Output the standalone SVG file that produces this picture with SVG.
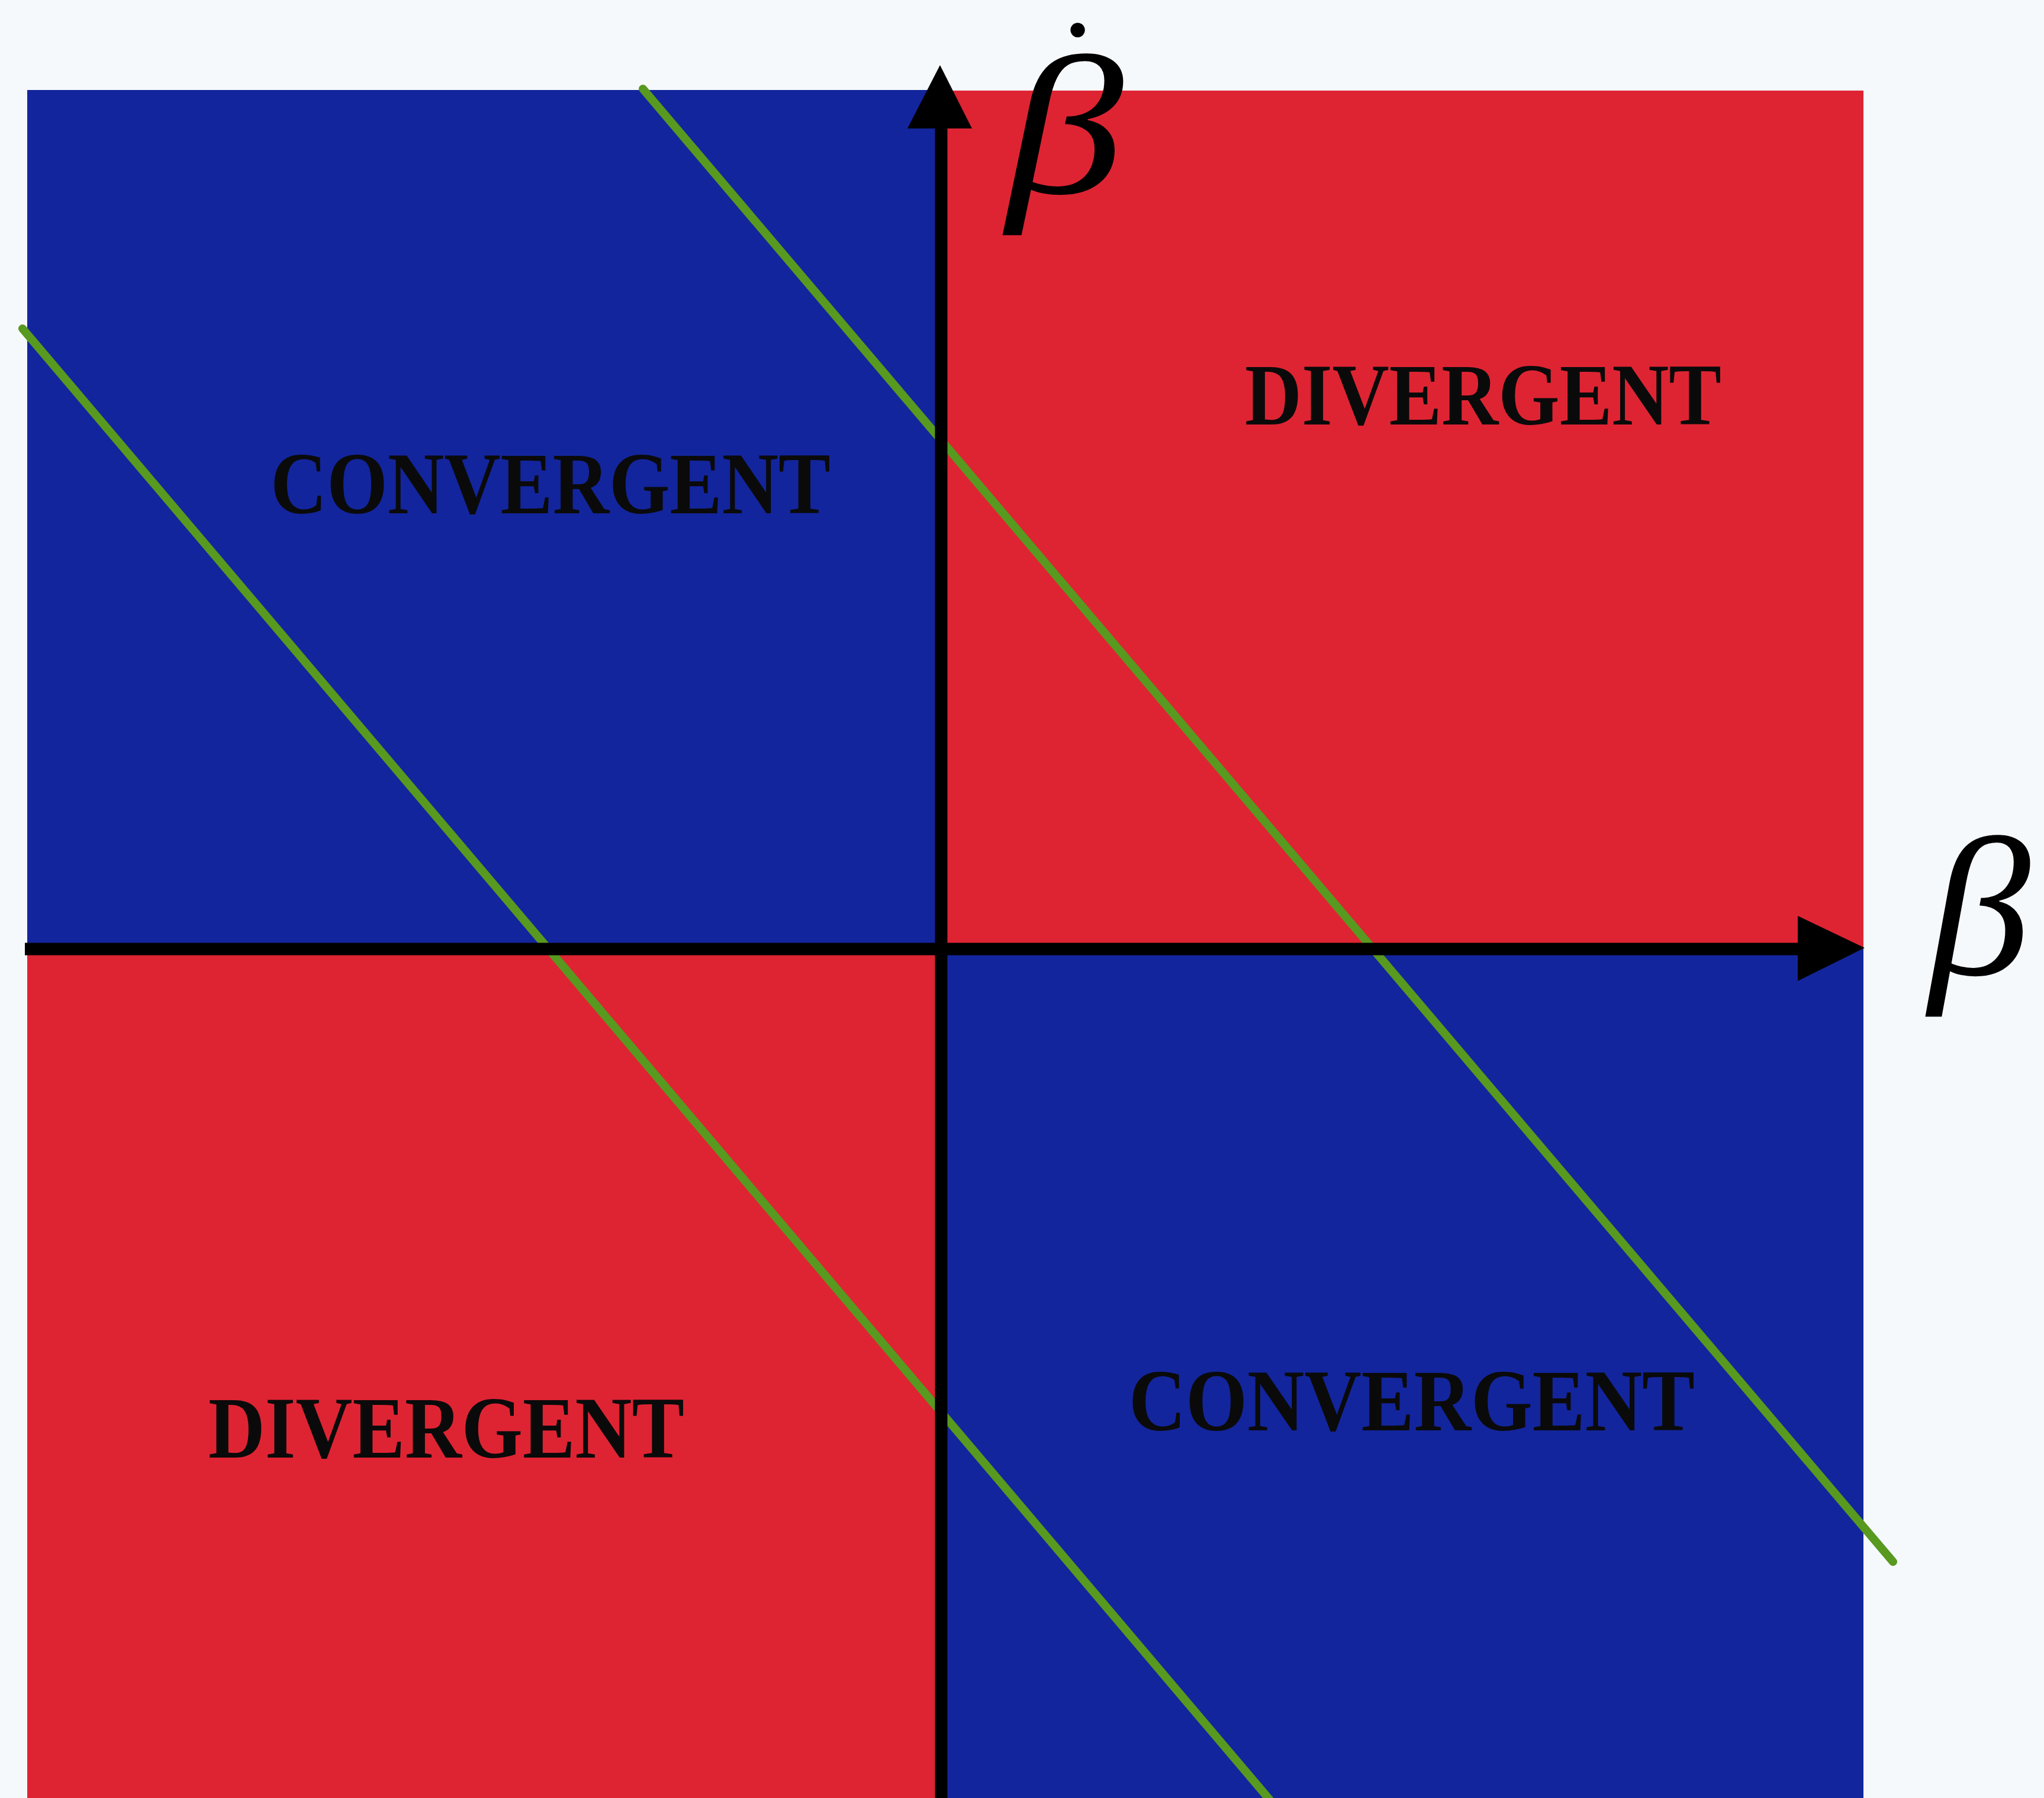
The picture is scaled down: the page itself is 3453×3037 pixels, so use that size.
<svg xmlns="http://www.w3.org/2000/svg" width="3453" height="3037" viewBox="0 0 3453 3037">
<style>
.blue{fill:#13259c}
.red{fill:#de2433}
.lbl{font-family:"Liberation Serif","Times New Roman",serif;font-weight:bold;font-size:148px;fill:#0a0a0a}
.greek{font-family:"Liberation Serif","Times New Roman",serif;font-style:italic;font-size:335px;fill:#000}
.axis{stroke:#000;stroke-width:21;fill:none}
.sep{stroke:#58991f;stroke-width:14;stroke-linecap:round;fill:none}
</style>
<rect x="0" y="0" width="3453" height="3037" fill="#f6f9fc"/>
<g id="q-top-left"><rect class="blue" x="46" y="152" width="1544" height="1451"/>
<text class="lbl" x="457" y="867" textLength="946" lengthAdjust="spacingAndGlyphs">CONVERGENT</text></g>
<g id="q-top-right"><rect class="red" x="1590" y="153" width="1558" height="1450"/>
<text class="lbl" x="2103" y="717" textLength="805" lengthAdjust="spacingAndGlyphs">DIVERGENT</text></g>
<g id="q-bottom-left"><rect class="red" x="46" y="1603" width="1544" height="1434"/>
<text class="lbl" x="352" y="2462" textLength="804" lengthAdjust="spacingAndGlyphs">DIVERGENT</text></g>
<g id="q-bottom-right"><rect class="blue" x="1590" y="1603" width="1558" height="1434"/>
<text class="lbl" x="1907" y="2416" textLength="956" lengthAdjust="spacingAndGlyphs">CONVERGENT</text></g>
<g id="connectors">
<line class="sep" x1="1086" y1="150" x2="3198" y2="2638"/>
<line class="sep" x1="38" y1="555" x2="2145" y2="3040"/>
<line class="axis" x1="1590" y1="3037" x2="1590" y2="210"/>
<polygon points="1588,110 1533,217 1642,217" fill="#000"/>
<line class="axis" x1="42" y1="1603" x2="3045" y2="1603"/>
<polygon points="3150,1601 3037,1547 3037,1657" fill="#000"/>
</g>
<g id="axis-labels">
<text class="greek" x="1700" y="326"><tspan textLength="198" lengthAdjust="spacingAndGlyphs">β</tspan><tspan x="1782" y="192" font-size="230" font-style="normal">˙</tspan></text>
<text class="greek" x="3258" y="1646" textLength="172" lengthAdjust="spacingAndGlyphs">β</text>
</g>
</svg>
